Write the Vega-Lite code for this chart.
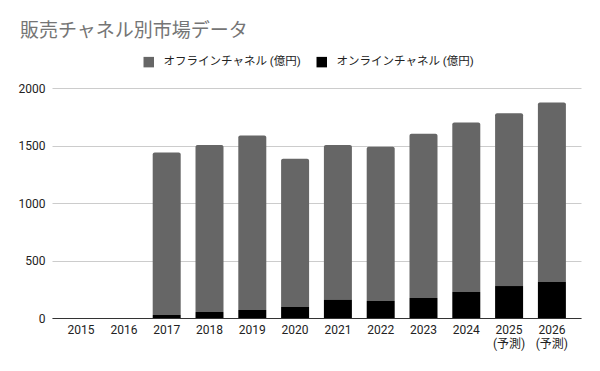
{
  "$schema": "https://vega.github.io/schema/vega-lite/v6.json",
  "width": 529,
  "height": 230,
  "autosize": "none",
  "padding": {"left": 52, "top": 88, "right": 19, "bottom": 53},
  "background": "white",
  "config": {
    "font": "Roboto, Noto Sans CJK JP",
    "view": {"stroke": null},
    "axis": {"labelFont": "Roboto, Noto Sans CJK JP", "labelColor": "#222222", "labelFontSize": 12}
  },
  "title": {
    "text": "販売チャネル別市場データ",
    "anchor": "start",
    "frame": "group",
    "orient": "top",
    "dx": -32,
    "dy": 16,
    "fontSize": 19,
    "fontWeight": "normal",
    "color": "#757575",
    "font": "Roboto, Noto Sans CJK JP",
    "baseline": "bottom",
    "offset": 12
  },
  "data": {
    "values": [
      {"year": "2015", "channel": "オフラインチャネル (億円)", "value": 0},
      {"year": "2015", "channel": "オンラインチャネル (億円)", "value": 0},
      {"year": "2016", "channel": "オフラインチャネル (億円)", "value": 0},
      {"year": "2016", "channel": "オンラインチャネル (億円)", "value": 0},
      {"year": "2017", "channel": "オフラインチャネル (億円)", "value": 1414},
      {"year": "2017", "channel": "オンラインチャネル (億円)", "value": 26},
      {"year": "2018", "channel": "オフラインチャネル (億円)", "value": 1453},
      {"year": "2018", "channel": "オンラインチャネル (億円)", "value": 52},
      {"year": "2019", "channel": "オフラインチャネル (億円)", "value": 1518},
      {"year": "2019", "channel": "オンラインチャネル (億円)", "value": 70},
      {"year": "2020", "channel": "オフラインチャネル (億円)", "value": 1289},
      {"year": "2020", "channel": "オンラインチャネル (億円)", "value": 96},
      {"year": "2021", "channel": "オフラインチャネル (億円)", "value": 1348},
      {"year": "2021", "channel": "オンラインチャネル (億円)", "value": 157},
      {"year": "2022", "channel": "オフラインチャネル (億円)", "value": 1342},
      {"year": "2022", "channel": "オンラインチャネル (億円)", "value": 148},
      {"year": "2023", "channel": "オフラインチャネル (億円)", "value": 1428},
      {"year": "2023", "channel": "オンラインチャネル (億円)", "value": 174},
      {"year": "2024", "channel": "オフラインチャネル (億円)", "value": 1474},
      {"year": "2024", "channel": "オンラインチャネル (億円)", "value": 226},
      {"year": "2025 (予測)", "channel": "オフラインチャネル (億円)", "value": 1502},
      {"year": "2025 (予測)", "channel": "オンラインチャネル (億円)", "value": 278},
      {"year": "2026 (予測)", "channel": "オフラインチャネル (億円)", "value": 1562},
      {"year": "2026 (予測)", "channel": "オンラインチャネル (億円)", "value": 313}
    ]
  },
  "transform": [
    {"stack": "value", "groupby": ["year"], "sort": [{"field": "channel", "order": "descending"}], "as": ["v0", "v1"]}
  ],
  "encoding": {
    "x": {
      "field": "year",
      "type": "nominal",
      "sort": null,
      "scale": {"paddingInner": 0.346, "paddingOuter": 0.353},
      "axis": {
        "title": null,
        "labelAngle": 0,
        "ticks": false,
        "domainColor": "#333333",
        "domainWidth": 1,
        "labelPadding": 6,
        "labelLineHeight": 14,
        "labelExpr": "split(datum.label, ' ')"
      }
    },
    "y": {
      "field": "v1",
      "type": "quantitative",
      "scale": {"domain": [0, 2000]},
      "axis": {
        "title": null,
        "values": [0, 500, 1000, 1500, 2000],
        "format": "d",
        "domain": false,
        "ticks": false,
        "gridColor": "#cccccc",
        "labelPadding": 7
      }
    },
    "y2": {"field": "v0"},
    "color": {
      "field": "channel",
      "type": "nominal",
      "scale": {"domain": ["オフラインチャネル (億円)", "オンラインチャネル (億円)"], "range": ["#666666", "#000000"]},
      "legend": {
        "title": null,
        "orient": "none",
        "direction": "horizontal",
        "legendX": 91,
        "legendY": -32,
        "symbolType": "square",
        "symbolSize": 110,
        "symbolStrokeWidth": 0,
        "symbolOpacity": 1,
        "labelFontSize": 11.5,
        "labelColor": "#222222",
        "labelOffset": 9,
        "columnPadding": 15,
        "padding": 0
      }
    }
  },
  "layer": [
    {
      "transform": [{"filter": "datum.channel == 'オフラインチャネル (億円)'"}],
      "mark": {"type": "bar", "cornerRadiusTopLeft": 2, "cornerRadiusTopRight": 2}
    },
    {
      "transform": [{"filter": "datum.channel == 'オンラインチャネル (億円)'"}],
      "mark": {"type": "bar"}
    }
  ]
}
